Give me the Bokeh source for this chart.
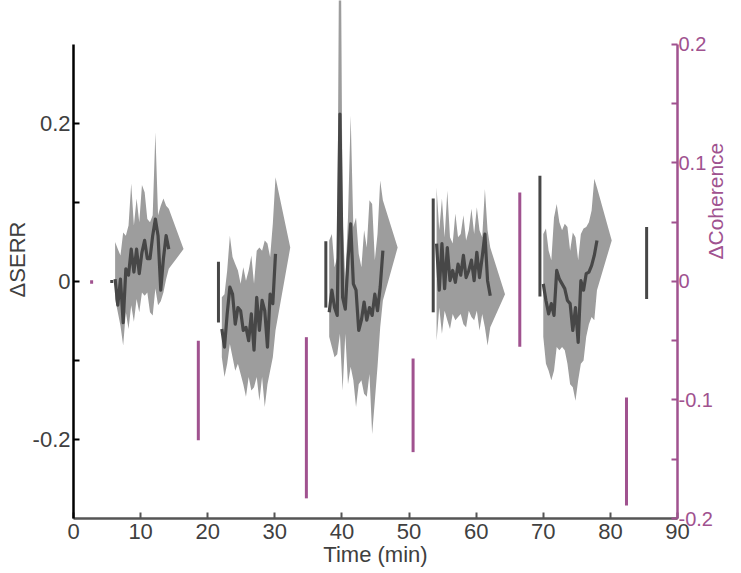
import math
from bokeh.plotting import figure
from bokeh.models import Range1d, LinearAxis, FixedTicker, CustomJSTickFormatter
from bokeh.embed import file_html
from bokeh.resources import INLINE

# ---------------- data ----------------
x_ticks = [0, 10, 20, 30, 40, 50, 60, 70, 80, 90]

# vertical SERR bars (left axis)
serr_bar_t = [5.7, 21.6, 37.6, 53.6, 69.5, 85.4]
serr_bar_top = [0.002, 0.025, 0.051, 0.105, 0.134, 0.069]
serr_bar_bottom = [-0.002, -0.052, -0.033, -0.039, -0.019, -0.022]

# vertical coherence bars (right axis)
coh_bar_t = [2.7, 18.6, 34.7, 50.6, 66.5, 82.4]
coh_bar_top = [0.001, -0.050, -0.047, -0.065, 0.075, -0.098]
coh_bar_bottom = [-0.002, -0.134, -0.183, -0.144, -0.055, -0.189]

# time series blocks
block_starts = [5.7, 21.6, 37.6, 53.6, 69.5]
sample_offsets = [0.5, 0.9, 1.3, 1.7, 2.1, 2.5, 2.9, 3.3, 3.7, 4.1, 4.5,
                  4.9, 5.3, 5.7, 6.1, 6.5, 6.9, 7.3, 7.7, 8.1, 8.5]
tip_offset = 10.7
tip_values = [0.041, 0.043, 0.043, -0.016, 0.052]

mean_b1 = [0.003, -0.030, 0.003, -0.052, 0.016, 0.008, 0.041, 0.012, 0.041, 0.010, 0.037,
           0.052, 0.029, 0.029, 0.058, 0.079, 0.058, -0.011, 0.029, 0.058, 0.041]
upper_b1 = [0.050, 0.041, 0.033, 0.062, 0.058, 0.071, 0.124, 0.071, 0.105, 0.075, 0.122,
            0.113, 0.079, 0.075, 0.084, 0.189, 0.084, 0.096, 0.105, 0.096, 0.092]
lower_b1 = [-0.022, -0.039, -0.056, -0.081, -0.039, -0.060, -0.030, -0.051, -0.022, -0.039, -0.014,
            -0.018, -0.014, -0.039, -0.043, -0.009, -0.030, -0.025, -0.014, 0.003, 0.016]

mean_b2 = [-0.060, -0.083, -0.041, -0.007, -0.016, -0.054, -0.033, -0.037, -0.062, -0.058, -0.075,
           -0.041, -0.087, -0.020, -0.062, -0.024, -0.037, -0.083, -0.016, -0.028, 0.035]
upper_b2 = [-0.020, -0.016, 0.014, 0.058, 0.031, 0.022, 0.014, -0.003, 0.018, 0.001, 0.014,
            0.033, -0.003, 0.039, 0.043, 0.039, 0.052, 0.048, 0.031, 0.073, 0.132]
lower_b2 = [-0.096, -0.121, -0.104, -0.079, -0.096, -0.113, -0.104, -0.117, -0.130, -0.146, -0.121,
            -0.138, -0.134, -0.121, -0.151, -0.121, -0.159, -0.130, -0.113, -0.096, -0.062]

mean_b3 = [-0.039, -0.011, -0.033, -0.043, 0.212, -0.020, -0.035, 0.027, 0.073, -0.003, -0.011,
           -0.062, -0.049, -0.026, -0.049, -0.033, -0.043, -0.016, -0.037, -0.007, 0.039]
upper_b3 = [0.052, 0.060, 0.018, 0.031, 0.600, 0.081, 0.001, 0.081, 0.210, 0.069, 0.081,
            0.035, 0.018, 0.065, 0.043, 0.103, 0.098, 0.027, 0.060, 0.128, 0.103]
lower_b3 = [-0.070, -0.083, -0.096, -0.092, -0.066, -0.138, -0.066, -0.130, -0.108, -0.125, -0.159,
            -0.130, -0.125, -0.142, -0.146, -0.117, -0.193, -0.151, -0.108, -0.058, -0.024]

mean_b4 = [0.048, -0.011, 0.048, -0.009, 0.043, 0.001, 0.014, -0.001, 0.022, 0.008, 0.033,
           0.005, 0.014, 0.027, 0.001, 0.037, 0.005, 0.031, 0.060, 0.001, -0.018]
upper_b4 = [0.119, 0.065, 0.105, 0.056, 0.115, 0.056, 0.048, 0.086, 0.056, 0.060, 0.084,
            0.052, 0.065, 0.092, 0.060, 0.094, 0.065, 0.056, 0.117, 0.065, 0.043]
lower_b4 = [-0.075, -0.033, -0.066, -0.037, -0.049, -0.060, -0.041, -0.049, -0.045, -0.041, -0.054,
            -0.058, -0.037, -0.045, -0.049, -0.037, -0.062, -0.041, -0.058, -0.081, -0.058]

mean_b5 = [-0.003, -0.024, -0.041, -0.028, -0.043, 0.014, 0.003, -0.003, -0.009, -0.024, -0.028,
           -0.062, -0.033, -0.077, 0.001, -0.011, 0.010, 0.012, 0.020, 0.033, 0.052]
upper_b5 = [0.060, 0.067, 0.039, 0.027, 0.081, 0.098, 0.075, 0.065, 0.073, 0.069, 0.039,
            0.062, 0.056, 0.027, 0.060, 0.067, 0.069, 0.075, 0.090, 0.130, 0.119]
lower_b5 = [-0.070, -0.104, -0.113, -0.125, -0.113, -0.083, -0.087, -0.083, -0.087, -0.104, -0.130,
            -0.134, -0.151, -0.125, -0.104, -0.100, -0.070, -0.054, -0.045, -0.049, -0.011]

means = [mean_b1, mean_b2, mean_b3, mean_b4, mean_b5]
uppers = [upper_b1, upper_b2, upper_b3, upper_b4, upper_b5]
lowers = [lower_b1, lower_b2, lower_b3, lower_b4, lower_b5]

# ---------------- style ----------------
PURPLE = "#a0528f"
BAND = "#9d9d9d"
LINE = "#474747"
TXT = "#404040"
FONT = "Liberation Sans"
FS = "22px"

p = figure(width=741, height=573, output_backend="svg", toolbar_location=None,
           x_range=Range1d(0, 90), y_range=Range1d(-0.3, 0.3557),
           min_border_left=73, min_border_right=63, min_border_top=0, min_border_bottom=55)
p.outline_line_color = None
p.grid.visible = False
p.extra_y_ranges = {"coh": Range1d(-0.2, 0.2371)}

for s, m, u, l, tip in zip(block_starts, means, uppers, lowers, tip_values):
    t = [s + o for o in sample_offsets]
    p.varea(x=t + [s + tip_offset], y1=l + [tip], y2=u + [tip], fill_color=BAND)
for s, m in zip(block_starts, means):
    t = [s + o for o in sample_offsets]
    p.line(t, m, line_width=3.2, line_color=LINE, line_join="round")

p.segment(x0=serr_bar_t, y0=serr_bar_bottom, x1=serr_bar_t, y1=serr_bar_top,
          line_width=3, line_color=LINE)
p.segment(x0=coh_bar_t, y0=coh_bar_bottom, x1=coh_bar_t, y1=coh_bar_top,
          line_width=3, line_color=PURPLE, y_range_name="coh")

fmt_code = "return Math.abs(tick) < 1e-9 ? '0' : tick.toFixed(1);"

# bottom axis
xa = p.xaxis[0]
xa.ticker = FixedTicker(ticks=x_ticks)
xa.bounds = (0, 90)
xa.axis_line_color = "#555555"
xa.axis_line_width = 2.5
xa.major_tick_in = 6
xa.major_tick_out = 0
xa.minor_tick_line_color = None
xa.major_tick_line_color = "#555555"
xa.major_tick_line_width = 2
xa.major_label_standoff = 5
xa.major_label_text_font = FONT
xa.major_label_text_font_size = FS
xa.major_label_text_color = TXT
xa.axis_label = "Time (min)"
xa.axis_label_standoff = 0
xa.axis_label_text_font = FONT
xa.axis_label_text_font_size = FS
xa.axis_label_text_font_style = "normal"
xa.axis_label_text_color = TXT

# left axis
ya = p.yaxis[0]
ya.ticker = FixedTicker(ticks=[-0.2, 0, 0.2], minor_ticks=[-0.1, 0.1])
ya.formatter = CustomJSTickFormatter(code=fmt_code)
ya.bounds = (-0.3, 0.3)
ya.axis_line_color = "black"
ya.axis_line_width = 2.5
ya.major_tick_in = 6
ya.major_tick_out = 0
ya.minor_tick_in = 6
ya.minor_tick_out = 0
ya.major_tick_line_color = "black"
ya.minor_tick_line_color = "black"
ya.major_tick_line_width = 2
ya.minor_tick_line_width = 2
ya.major_label_standoff = 3
ya.major_label_text_font = FONT
ya.major_label_text_font_size = FS
ya.major_label_text_color = TXT
ya.axis_label = "ΔSERR"
ya.axis_label_standoff = 0
ya.axis_label_text_font = FONT
ya.axis_label_text_font_size = FS
ya.axis_label_text_font_style = "normal"
ya.axis_label_text_color = TXT

# right axis
ra = LinearAxis(y_range_name="coh")
ra.ticker = FixedTicker(ticks=[-0.2, -0.1, 0, 0.1, 0.2], minor_ticks=[-0.15, -0.05, 0.05, 0.15])
ra.formatter = CustomJSTickFormatter(code=fmt_code)
ra.bounds = (-0.2, 0.2)
ra.axis_line_color = PURPLE
ra.axis_line_width = 2.5
ra.major_tick_in = 6
ra.major_tick_out = 0
ra.minor_tick_in = 6
ra.minor_tick_out = 0
ra.major_tick_line_color = PURPLE
ra.minor_tick_line_color = PURPLE
ra.major_tick_line_width = 2
ra.minor_tick_line_width = 2
ra.major_label_standoff = 1
ra.major_label_text_font = FONT
ra.major_label_text_font_size = "20px"
ra.major_label_text_color = PURPLE
ra.axis_label = "ΔCoherence"
ra.axis_label_standoff = 0
ra.axis_label_text_font = FONT
ra.axis_label_text_font_size = "21px"
ra.axis_label_text_font_style = "normal"
ra.axis_label_text_color = PURPLE
try:
    ra.axis_label_orientation = math.pi / 2
except Exception:
    pass
p.add_layout(ra, "right")

open("out.html", "w").write(file_html(p, INLINE))
